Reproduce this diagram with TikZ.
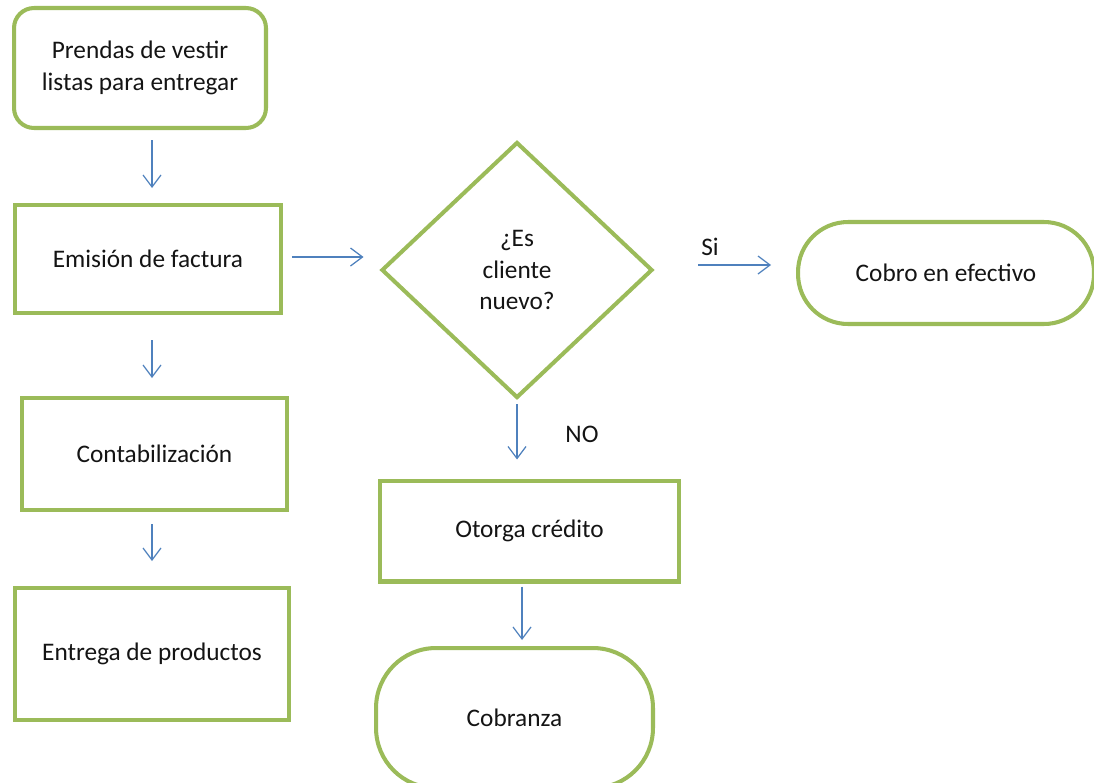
\documentclass[tikz,border=0pt]{standalone}
\usepackage{fontspec}
\setmainfont{Carlito}
\usetikzlibrary{shapes.geometric,arrows.meta}
\definecolor{verde}{RGB}{155,187,89}
\definecolor{azul}{RGB}{79,129,189}
\definecolor{texto}{RGB}{20,20,20}
\begin{document}
\begin{tikzpicture}[x=0.02cm,y=-0.02cm,
  font=\fontsize{14.4}{17.8}\selectfont, text=texto,
  caja/.style={draw=verde, line width=2.3pt, align=center, inner sep=2pt},
  redonda/.style={caja, rounded corners=#1},
  decision/.style={caja, diamond, aspect=1.06, inner sep=0pt},
  flecha/.style={draw=azul, line width=0.7pt, -{Straight Barb[length=0.24cm,width=0.36cm]}}]
\useasboundingbox (0,0) rectangle (1094,782);
\node[redonda=0.4cm, minimum width=5.04cm, minimum height=2.4cm](prendas) at (140,68){Prendas de vestir\\listas para entregar};
\node[caja, minimum width=5.32cm, minimum height=2.16cm](emision) at (148,259){Emisión de factura};
\node[caja, minimum width=5.3cm, minimum height=2.24cm](contab) at (154.5,454){Contabilización};
\node[caja, minimum width=5.48cm, minimum height=2.64cm](entrega) at (152,654){Entrega de productos};
\node[decision, minimum width=5.42cm, minimum height=5.12cm](nuevo) at (517,270){¿Es\\cliente\\nuevo?};
\node[redonda=1cm, minimum width=5.92cm, minimum height=2.04cm](cobro) at (946,273){Cobro en efectivo};
\node[caja, minimum width=5.98cm, minimum height=2.02cm](otorga) at (529.5,531){Otorga crédito};
\node[redonda=1.2cm, minimum width=5.54cm, minimum height=2.8cm](cobranza) at (514.5,718){Cobranza};
\node(si) at (710,247){Si};
\node(no) at (582,434){NO};
% flechas
\draw[flecha, shorten <=0.2cm, shorten >=0.3cm] (152,0 |- prendas.south) -- (152,0 |- emision.north);
\draw[flecha, shorten <=0.5cm, shorten >=0.36cm] (152,0 |- emision.south) -- (152,0 |- contab.north);
\draw[flecha, shorten <=0.24cm, shorten >=0.5cm] (152,0 |- contab.south) -- (152,0 |- entrega.north);
\draw[flecha, shorten <=0.18cm, shorten >=0.32cm] (0,257 -| emision.east) -- (0,257 -| nuevo.west);
\draw[flecha, shorten <=0.88cm, shorten >=0.5cm] (0,265 -| nuevo.east) -- (0,265 -| cobro.west);
\draw[flecha, shorten <=0.08cm, shorten >=0.38cm] (nuevo.south) -- (nuevo.south |- otorga.north);
\draw[flecha, shorten <=0.06cm, shorten >=0.12cm] (522,0 |- otorga.south) -- (522,0 |- cobranza.north);
\end{tikzpicture}
\end{document}
